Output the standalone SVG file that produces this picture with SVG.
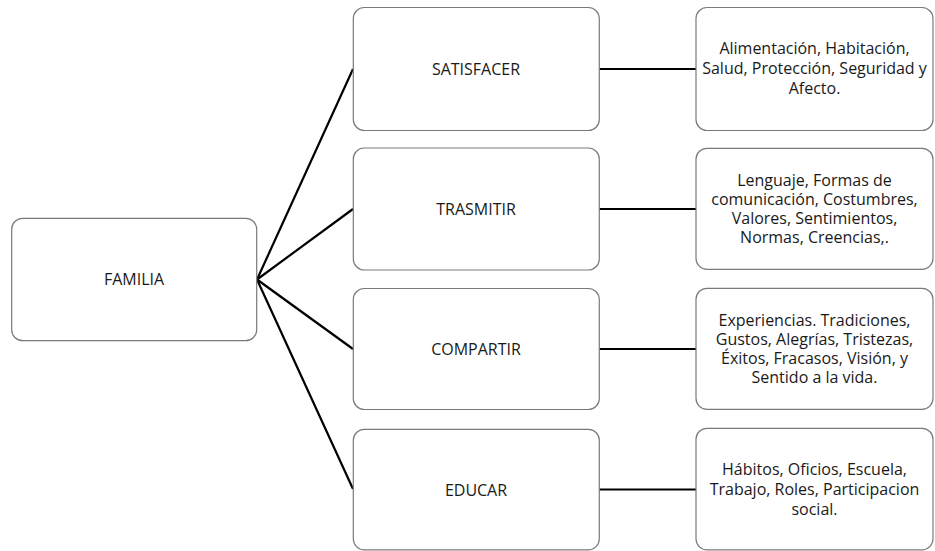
<svg xmlns="http://www.w3.org/2000/svg" width="935" height="551" viewBox="0 0 935 551">
<style>
.box{fill:#fff;stroke:#7a7a7a;stroke-width:1.2}
.t{font-family:"Open Sans","Liberation Sans",sans-serif;font-size:16px;fill:#1a1a1a;text-anchor:middle}
.c{stroke:#000;stroke-width:2.2;fill:none}
</style>
<rect width="935" height="551" fill="#fff"/>
<g id="connectors">
<line class="c" x1="257" y1="279.5" x2="353" y2="69"/>
<line class="c" x1="257" y1="279.5" x2="353" y2="209"/>
<line class="c" x1="257" y1="279.5" x2="353" y2="349"/>
<line class="c" x1="257" y1="279.5" x2="353" y2="489"/>
<line class="c" x1="599" y1="69" x2="696" y2="69"/>
<line class="c" x1="599" y1="209" x2="696" y2="209"/>
<line class="c" x1="599" y1="349" x2="696" y2="349"/>
<line class="c" x1="599" y1="489.5" x2="696" y2="489.5"/>
</g>
<g id="familia">
<rect class="box" x="11.7" y="218.3" width="245" height="122.4" rx="11"/>
<text class="t" x="134" y="285">FAMILIA</text>
</g>
<g id="satisfacer">
<rect class="box" x="353.3" y="7.5" width="246" height="123" rx="11"/>
<text class="t" x="476" y="75">SATISFACER</text>
</g>
<g id="trasmitir">
<rect class="box" x="353.3" y="148" width="246" height="122" rx="11"/>
<text class="t" x="476" y="215">TRASMITIR</text>
</g>
<g id="compartir">
<rect class="box" x="353.3" y="288.5" width="246" height="121" rx="11"/>
<text class="t" x="476" y="355">COMPARTIR</text>
</g>
<g id="educar">
<rect class="box" x="353.3" y="429.3" width="246" height="120.5" rx="11"/>
<text class="t" x="476" y="495.5">EDUCAR</text>
</g>
<g id="necesidades">
<rect class="box" x="696" y="7.5" width="237" height="123" rx="11"/>
<text class="t" x="814.5" y="54">Alimentación, Habitación,</text>
<text class="t" x="814.5" y="74">Salud, Protección, Seguridad y</text>
<text class="t" x="814.5" y="94">Afecto.</text>
</g>
<g id="cultura">
<rect class="box" x="696" y="148.3" width="237" height="121" rx="11"/>
<text class="t" x="814.5" y="186">Lenguaje, Formas de</text>
<text class="t" x="814.5" y="205">comunicación, Costumbres,</text>
<text class="t" x="814.5" y="224">Valores, Sentimientos,</text>
<text class="t" x="814.5" y="243">Normas, Creencias,.</text>
</g>
<g id="experiencias">
<rect class="box" x="696" y="288.3" width="237" height="121" rx="11"/>
<text class="t" x="814.5" y="326">Experiencias. Tradiciones,</text>
<text class="t" x="814.5" y="345">Gustos, Alegrías, Tristezas,</text>
<text class="t" x="814.5" y="364">Éxitos, Fracasos, Visión, y</text>
<text class="t" x="814.5" y="383">Sentido a la vida.</text>
</g>
<g id="habitos">
<rect class="box" x="696" y="428.3" width="237" height="121.5" rx="11"/>
<text class="t" x="814.5" y="475">Hábitos, Oficios, Escuela,</text>
<text class="t" x="814.5" y="495">Trabajo, Roles, Participacion</text>
<text class="t" x="814.5" y="515">social.</text>
</g>
</svg>
